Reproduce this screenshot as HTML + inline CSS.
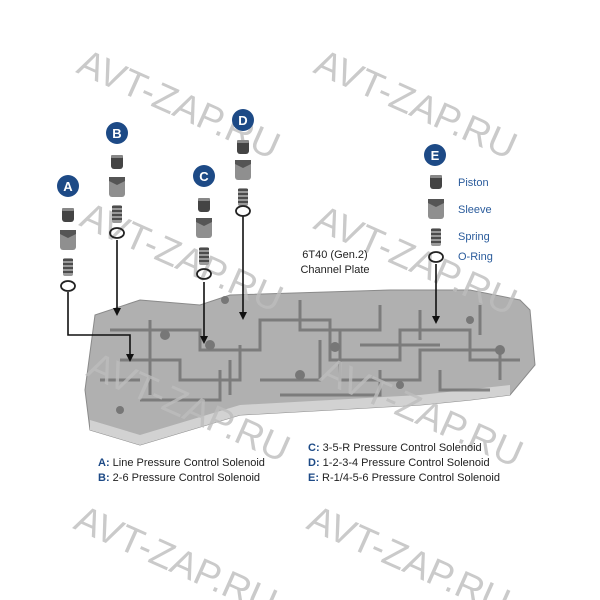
<!DOCTYPE html><html><head><style>
body{margin:0;background:#fff;width:600px;height:600px;overflow:hidden}
svg{display:block}
.wm{font-family:"Liberation Sans",sans-serif;font-size:38px;fill:#bdbdbd;opacity:.8}
.lg{font-family:"Liberation Sans",sans-serif;font-size:11px;fill:#222}
.b{fill:#1d4a86;font-weight:bold}
.pl{font-family:"Liberation Sans",sans-serif;font-size:11px;fill:#2b5c9c}
.bd{font-family:"Liberation Sans",sans-serif;font-size:13px;font-weight:bold;fill:#fff}
</style></head><body>
<svg width="600" height="600" viewBox="0 0 600 600">
<defs>
<g id="pis"><rect x="-6" y="0" width="12" height="14" rx="3" fill="#444"/><rect x="-6" y="0" width="12" height="3" rx="1" fill="#888"/></g>
<g id="slv"><rect x="-8" y="0" width="16" height="20" rx="3" fill="#8f8f8f"/><polygon points="-8,0 8,0 8,4 0,8 -8,4" fill="#555"/></g>
<g id="spr"><rect x="-5" y="0" width="10" height="18" rx="2" fill="#999"/><path d="M-5 2 H5 M-5 6 H5 M-5 10 H5 M-5 14 H5" stroke="#333" stroke-width="1.5"/></g>
<g id="orn"><ellipse cx="0" cy="0" rx="7" ry="5" fill="none" stroke="#222" stroke-width="1.8"/></g>
</defs>
<!-- plate -->
<polygon points="95,315 140,300 200,305 230,295 390,290 470,290 520,300 530,310 535,365 510,395 470,400 420,405 240,415 140,445 90,430 85,390" fill="#b0b0b0" stroke="#8a8a8a"/>
<polygon points="90,420 140,435 240,405 420,395 510,385 510,395 470,400 420,405 240,415 140,445 90,430" fill="#d2d2d2"/>
<g stroke="#707070" stroke-width="3" fill="none" opacity=".8">
<path d="M110 330 H200 V350 H260 V320 H330 V360 H400 V330 H470 V360 H520"/>
<path d="M120 360 H180 V380 H240 V345 M260 380 H320 V340 M340 330 V380 H420 V350 H500 V380"/>
<path d="M140 400 H220 V370 M280 395 H380 V370 M440 370 V390 H490"/>
<path d="M150 320 V395 M300 300 V330 H380 V305 M420 310 V340 M480 305 V335"/>
<path d="M100 380 H140 M230 395 V360 M360 345 H440"/>
</g>
<g fill="#777"><circle cx="165" cy="335" r="5"/><circle cx="225" cy="300" r="4"/><circle cx="335" cy="347" r="5"/><circle cx="470" cy="320" r="4"/><circle cx="500" cy="350" r="5"/><circle cx="120" cy="410" r="4"/><circle cx="300" cy="375" r="5"/><circle cx="400" cy="385" r="4"/><circle cx="210" cy="345" r="5"/></g>
<!-- watermarks -->
<text class="wm" transform="translate(75,72) rotate(24)">AVT-ZAP.RU</text>
<text class="wm" transform="translate(312,72) rotate(24)">AVT-ZAP.RU</text>
<text class="wm" transform="translate(78,225) rotate(24)">AVT-ZAP.RU</text>
<text class="wm" transform="translate(312,228) rotate(24)">AVT-ZAP.RU</text>
<text class="wm" transform="translate(85,375) rotate(24)">AVT-ZAP.RU</text>
<text class="wm" transform="translate(318,380) rotate(24)">AVT-ZAP.RU</text>
<text class="wm" transform="translate(72,528) rotate(24)">AVT-ZAP.RU</text>
<text class="wm" transform="translate(305,528) rotate(24)">AVT-ZAP.RU</text>
<!-- connectors -->
<g stroke="#111" stroke-width="1.6" fill="none">
<path d="M68 292 V335 H130 V358"/><path d="M117 240 V312"/><path d="M204 282 V340"/><path d="M243 216 V316"/><path d="M436 264 V320"/>
</g>
<g fill="#111">
<polygon points="126,354 134,354 130,362"/><polygon points="113,308 121,308 117,316"/><polygon points="200,336 208,336 204,344"/><polygon points="239,312 247,312 243,320"/><polygon points="432,316 440,316 436,324"/>
</g>
<!-- stacks -->
<g transform="translate(68,0)"><use href="#pis" y="208"/><use href="#slv" y="230"/><use href="#spr" y="258"/><use href="#orn" y="286"/></g>
<g transform="translate(117,0)"><use href="#pis" y="155"/><use href="#slv" y="177"/><use href="#spr" y="205"/><use href="#orn" y="233"/></g>
<g transform="translate(204,0)"><use href="#pis" y="198"/><use href="#slv" y="218"/><use href="#spr" y="247"/><use href="#orn" y="274"/></g>
<g transform="translate(243,0)"><use href="#pis" y="140"/><use href="#slv" y="160"/><use href="#spr" y="188"/><use href="#orn" y="211"/></g>
<g transform="translate(436,0)"><use href="#pis" y="175"/><use href="#slv" y="199"/><use href="#spr" y="228"/><use href="#orn" y="257"/></g>
<!-- badges -->
<g fill="#1d4a86"><circle cx="68" cy="186" r="11"/><circle cx="117" cy="133" r="11"/><circle cx="204" cy="176" r="11"/><circle cx="243" cy="120" r="11"/><circle cx="435" cy="155" r="11"/></g>
<text class="bd" x="68" y="191" text-anchor="middle">A</text>
<text class="bd" x="117" y="138" text-anchor="middle">B</text>
<text class="bd" x="204" y="181" text-anchor="middle">C</text>
<text class="bd" x="243" y="125" text-anchor="middle">D</text>
<text class="bd" x="435" y="160" text-anchor="middle">E</text>
<text class="pl" x="458" y="186">Piston</text>
<text class="pl" x="458" y="213">Sleeve</text>
<text class="pl" x="458" y="240">Spring</text>
<text class="pl" x="458" y="260">O-Ring</text>
<text class="lg" x="335" y="258" text-anchor="middle">6T40 (Gen.2)</text>
<text class="lg" x="335" y="273" text-anchor="middle">Channel Plate</text>
<text class="lg" x="98" y="466"><tspan class="b">A:</tspan> Line Pressure Control Solenoid</text>
<text class="lg" x="98" y="481"><tspan class="b">B:</tspan> 2-6 Pressure Control Solenoid</text>
<text class="lg" x="308" y="451"><tspan class="b">C:</tspan> 3-5-R Pressure Control Solenoid</text>
<text class="lg" x="308" y="466"><tspan class="b">D:</tspan> 1-2-3-4 Pressure Control Solenoid</text>
<text class="lg" x="308" y="481"><tspan class="b">E:</tspan> R-1/4-5-6 Pressure Control Solenoid</text>
</svg>
</body></html>
